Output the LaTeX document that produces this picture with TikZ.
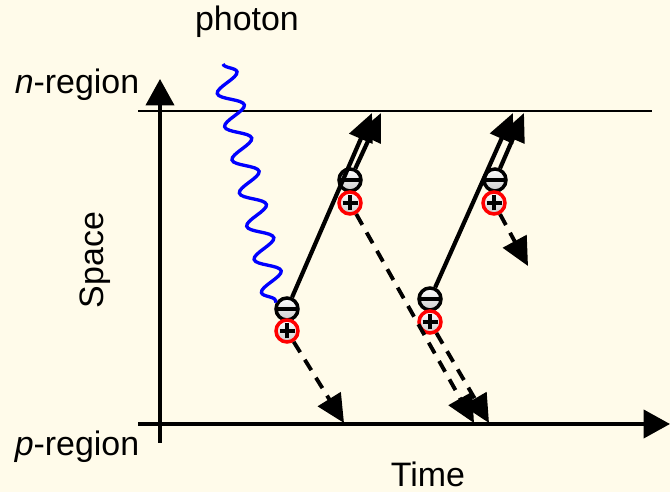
\documentclass[tikz,border=0pt]{standalone}
\usepackage{fontspec}
\setmainfont{Liberation Sans}
\usepackage{tikz}
\usetikzlibrary{arrows.meta, positioning, decorations.pathmorphing}
\definecolor{paper}{RGB}{255,251,234}
\definecolor{wave}{RGB}{0,0,255}

\begin{document}
\begin{tikzpicture}[
    x=0.02cm, y=-0.02cm,
    lbl/.style={font=\fontsize{19.3}{23}\selectfont, inner sep=0pt},
    axisLine/.style={line width=2pt, -{Triangle[length=15pt, width=16pt]}},
    bandLine/.style={line width=0.9pt},
    elecRel/.style={line width=2.4pt, -{Triangle[length=16pt, width=14pt]}},
    holeRel/.style={line width=2.2pt, dash pattern=on 7pt off 5pt, -{Triangle[length=16pt, width=15pt]}},
    photonRel/.style={wave, line width=1.9pt, decorate, decoration={snake, segment length=0.68cm, amplitude=0.24cm}},
    eNode/.style={circle, draw=black, line width=2pt, minimum size=0.44cm, inner sep=0pt,
        top color=white, bottom color=gray!40,
        path picture={\draw[black, line width=2.2pt] ([xshift=-0.2cm]path picture bounding box.center) -- ([xshift=0.2cm]path picture bounding box.center);}},
    hNode/.style={circle, draw=red, line width=2pt, minimum size=0.44cm, inner sep=0pt,
        top color=white, bottom color=gray!40,
        path picture={\draw[black, line width=2.2pt] ([xshift=-0.15cm]path picture bounding box.center) -- ([xshift=0.15cm]path picture bounding box.center);
                      \draw[black, line width=2.2pt] ([yshift=-0.15cm]path picture bounding box.center) -- ([yshift=0.15cm]path picture bounding box.center);}}
]
    % Background
    \fill[paper] (0,0) rectangle (670,492);
    \useasboundingbox (0,0) rectangle (670,492);

    % Labels
    \node[lbl] (photon) at (247,22)  {photon};
    \node[lbl] (nreg)   at (77,85)   {\textit{n}-region};
    \node[lbl] (preg)   at (77,447)  {\textit{p}-region};
    \node[lbl, rotate=90] (space) at (95,260) {Space};
    \node[lbl] (time)   at (428,474) {Time};

    % Axes
    \coordinate (yfoot) at (160,443);
    \coordinate (ytip)  at (160,79);
    \coordinate (xfoot) at (138,424);
    \coordinate (xtip)  at (670,424);
    \coordinate (bandL) at (138,111);
    \coordinate (bandR) at (652,111);
    \draw[bandLine] (bandL) -- (bandR);
    \draw[axisLine] (yfoot) -- (ytip);
    \draw[axisLine] (xfoot) -- (xtip);

    % Electron-hole pairs
    \node[eNode] (e1) at (287,309) {};
    \node[hNode] (h1) at (287,331) {};
    \node[eNode] (e2) at (350,180) {};
    \node[hNode] (h2) at (350,203) {};
    \node[eNode] (e3) at (430,299) {};
    \node[hNode] (h3) at (430,322) {};
    \node[eNode] (e4) at (495,180) {};
    \node[hNode] (h4) at (494,203) {};

    % Arrow ends
    \coordinate (et1) at (372,113);
    \coordinate (et2) at (381,113);
    \coordinate (et3) at (513,113);
    \coordinate (et4) at (524,113);
    \coordinate (ht1) at (344,423);
    \coordinate (ht2) at (474,423);
    \coordinate (ht3) at (489,423);
    \coordinate (ht4) at (528,266);
    \coordinate (ph)  at (223,64);

    % Photon
    \draw[photonRel] (ph) -- (e1.150);

    % Electrons drift up, holes drift down
    \draw[elecRel] (e1) -- (et1);
    \draw[elecRel] (e2) -- (et2);
    \draw[elecRel] (e3) -- (et3);
    \draw[elecRel] (e4) -- (et4);
    \draw[holeRel] (h1) -- (ht1);
    \draw[holeRel] (h2) -- (ht2);
    \draw[holeRel] (h3) -- (ht3);
    \draw[holeRel] (h4) -- (ht4);
\end{tikzpicture}
\end{document}
